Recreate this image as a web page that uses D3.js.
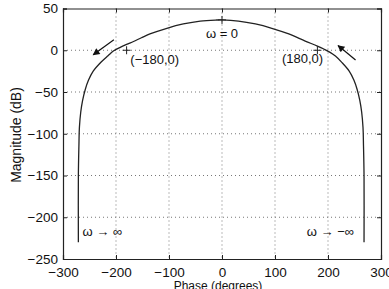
<!DOCTYPE html>
<html>
<head>
<meta charset="utf-8">
<script src="https://d3js.org/d3.v7.min.js"></script>
<style>
  body { margin: 0; background: #fff; }
  text { font-family: "Liberation Sans", Arial, Helvetica, sans-serif; fill: #111; }
  .axis path, .axis line { stroke: #222; }
  .grid line { stroke: #777; stroke-dasharray: 1,3; }
</style>
</head>
<body>
<svg width="389" height="289"></svg>
<script>
// Nichols curve
var phaseDeg = [-271, -271, -270, -269, -266.5, -263, -258, -252, -243, -228, -215, -205, -192, -180, -167, -152, -136, -104, -73, -41, -10,
                0, 31, 63, 94, 126, 157, 180, 192, 204, 214, 226, 240, 249, 255, 260, 263.5, 266, 267, 268, 268];
var magDb    = [-230, -150, -115, -92, -74, -60, -47, -36, -25, -14, -6.5, -1, 3.5, 7, 10.5, 15, 19.5, 26.3, 31.5, 35, 36.2,
                36.3, 35, 31.5, 26.3, 19.5, 11, 5, 1.5, -2.5, -7, -14.5, -25, -36, -47, -60, -74, -92, -115, -150, -230];

var xTicks = [-300, -200, -100, 0, 100, 200, 300];
var yTicks = [50, 0, -50, -100, -150, -200, -250];

// plus markers and their labels
var markers = [[-180, 0], [180, 0], [0, 36.3]];
var labels = [
  {text: "\u03c9 = 0", x: 0, y: 15, anchor: "middle"},
  {text: "(\u2212180,0)", x: -173, y: -17, anchor: "start"},
  {text: "(180,0)", x: 113, y: -15.5, anchor: "start"},
  {text: "\u03c9 \u2192 \u221e", x: -263, y: -222, anchor: "start"},
  {text: "\u03c9 \u2192 \u2212\u221e", x: 160, y: -222, anchor: "start"}
];
// direction arrows: [from, to]
var arrows = [
  [[-204, 12.5], [-243, -5.5]],
  [[252, -11.6], [219, 5.6]]
];

var svg = d3.select("svg"),
    margin = {top: 8.5, right: 8, bottom: 30, left: 63},
    width = +svg.attr("width") - margin.left - margin.right,
    height = +svg.attr("height") - margin.top - margin.bottom,
    g = svg.append("g").attr("transform", "translate(" + margin.left + "," + margin.top + ")");

var x = d3.scaleLinear().domain([-300, 300]).range([0, width]);
var y = d3.scaleLinear().domain([-250, 50]).range([height, 0]);

// grid
g.append("g").attr("class", "grid")
  .selectAll("line").data(xTicks.slice(1, -1)).enter().append("line")
    .attr("x1", d => x(d)).attr("x2", d => x(d)).attr("y1", 0).attr("y2", height);
g.append("g").attr("class", "grid")
  .selectAll("line").data(yTicks.slice(1, -1)).enter().append("line")
    .attr("y1", d => y(d)).attr("y2", d => y(d)).attr("x1", 0).attr("x2", width);

// axes, matlab style ticks pointing in
g.append("g").attr("class", "axis")
  .attr("transform", "translate(0," + height + ")")
  .call(d3.axisBottom(x).tickValues(xTicks).tickSize(-4).tickPadding(8))
  .selectAll("text").style("font-size", "13.5px");
g.append("g").attr("class", "axis")
  .call(d3.axisLeft(y).tickValues(yTicks).tickSize(-4).tickPadding(5))
  .selectAll("text").style("font-size", "13.5px");
g.append("g").attr("class", "axis")
  .call(d3.axisTop(x).tickValues(xTicks).tickSize(-4).tickFormat(""));
g.append("g").attr("class", "axis")
  .attr("transform", "translate(" + width + ",0)")
  .call(d3.axisRight(y).tickValues(yTicks).tickSize(-4).tickFormat(""));
g.selectAll(".axis .domain").attr("stroke", "#111").attr("stroke-width", 1.2);

// axis titles
svg.append("text")
  .attr("x", margin.left + x(0) - 4).attr("y", 290)
  .attr("text-anchor", "middle").style("font-size", "12px")
  .text("Phase (degrees)");
svg.append("text")
  .attr("transform", "translate(21,135) rotate(-90)")
  .attr("text-anchor", "middle").style("font-size", "14px")
  .text("Magnitude (dB)");

// curve
var pts = phaseDeg.map((p, i) => [p, magDb[i]]);
var line = d3.line().x(d => x(d[0])).y(d => y(d[1])).curve(d3.curveCatmullRom.alpha(0.5));
g.append("path").datum(pts)
  .attr("d", line)
  .attr("fill", "none").attr("stroke", "#222").attr("stroke-width", 1.3);

// markers
g.selectAll(".mk").data(markers).enter().append("path")
  .attr("class", "mk")
  .attr("transform", d => "translate(" + x(d[0]) + "," + y(d[1]) + ")")
  .attr("d", "M-4,0H4M0,-4V4")
  .attr("stroke", "#222").attr("stroke-width", 1);

// labels
g.selectAll(".lb").data(labels).enter().append("text")
  .attr("class", "lb")
  .attr("x", d => x(d.x)).attr("y", d => y(d.y))
  .attr("text-anchor", d => d.anchor)
  .style("font-size", "13px")
  .text(d => d.text);

// arrows
svg.append("defs").append("marker")
  .attr("id", "head").attr("viewBox", "0 0 10 10")
  .attr("refX", 9).attr("refY", 5)
  .attr("markerWidth", 9).attr("markerHeight", 7)
  .attr("markerUnits", "userSpaceOnUse")
  .attr("orient", "auto")
  .append("path").attr("d", "M0,0L10,5L0,10z").attr("fill", "#111");
g.selectAll(".arr").data(arrows).enter().append("line")
  .attr("class", "arr")
  .attr("x1", d => x(d[0][0])).attr("y1", d => y(d[0][1]))
  .attr("x2", d => x(d[1][0])).attr("y2", d => y(d[1][1]))
  .attr("stroke", "#111").attr("stroke-width", 1.2)
  .attr("marker-end", "url(#head)");
</script>
</body>
</html>
